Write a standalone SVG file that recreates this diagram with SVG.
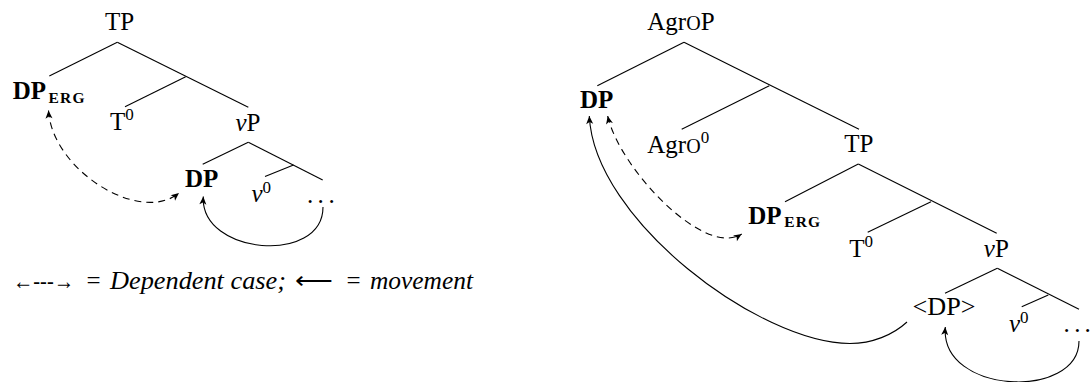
<svg xmlns="http://www.w3.org/2000/svg" width="1091" height="382" viewBox="0 0 1091 382">
<style>
text{font-family:"Liberation Serif","Times New Roman",serif;font-size:25px;fill:#000}
.b{font-weight:bold}
.i{font-style:italic}
.sub{font-size:15.5px;font-weight:bold;letter-spacing:1.2px}
.sup{font-size:17px}
.sc{font-size:20px}
.edge{stroke:#000;stroke-width:1.1;fill:none}
.arc{stroke:#000;stroke-width:1.1;fill:none}
.dash{stroke-dasharray:7 5}
</style>
<defs>
<marker id="ah" viewBox="-9 -5 10 10" refX="0" refY="0" markerWidth="10" markerHeight="10" markerUnits="userSpaceOnUse" orient="auto-start-reverse">
<path d="M0,0 L-8,-3.5 L-6,0 L-8,3.5 Z" fill="#000" stroke="none"/>
</marker>
</defs>
<g id="edges">
<line class="edge" x1="117.3" y1="42.3" x2="49.3" y2="76"/>
<line class="edge" x1="117.3" y1="42.3" x2="248.3" y2="107.3"/>
<line class="edge" x1="185.7" y1="76.7" x2="125" y2="106.7"/>
<line class="edge" x1="248.3" y1="142.3" x2="202.7" y2="164.3"/>
<line class="edge" x1="248.3" y1="142.3" x2="322.7" y2="180"/>
<line class="edge" x1="293.5" y1="165" x2="265" y2="176.5"/>
<line class="edge" x1="684" y1="42.3" x2="597.3" y2="85.7"/>
<line class="edge" x1="684" y1="42.3" x2="859" y2="129.3"/>
<line class="edge" x1="769.3" y1="85.7" x2="681.7" y2="129.3"/>
<line class="edge" x1="858.3" y1="164" x2="785" y2="201.7"/>
<line class="edge" x1="858.3" y1="164" x2="996.7" y2="233.3"/>
<line class="edge" x1="931" y1="201.7" x2="867.7" y2="232.3"/>
<line class="edge" x1="997.3" y1="268.3" x2="945" y2="293.3"/>
<line class="edge" x1="997.3" y1="268.3" x2="1079" y2="309.3"/>
<line class="edge" x1="1048.3" y1="295" x2="1021.7" y2="306.7"/>
</g>
<g id="connectors">
<path class="arc dash" d="M48.5,110.5 C52,170 140,225 179,193" marker-start="url(#ah)" marker-end="url(#ah)"/>
<path class="arc" d="M323,207 C323,265 200,255 203.3,196.5" marker-end="url(#ah)"/>
<path class="arc" d="M907,322 C893,335 872,343.5 850,343.5 C760,343.5 594,220 589.3,116" marker-end="url(#ah)"/>
<path class="arc dash" d="M607.7,116 C620,170 705,258 741.7,234" marker-start="url(#ah)" marker-end="url(#ah)"/>
<path class="arc" d="M1079,341 C1079,400 940,395 945.3,327" marker-end="url(#ah)"/>
</g>
<g id="L-TP"><text x="119.5" y="30" text-anchor="middle">TP</text></g>
<g id="L-DPerg"><text x="12.7" y="99.3"><tspan class="b">DP</tspan><tspan class="sub" dx="2.5" dy="3.4">ERG</tspan></text></g>
<g id="L-T0"><text x="110" y="130">T<tspan class="sup" dy="-10">0</tspan></text></g>
<g id="L-vP"><text x="235.5" y="131"><tspan class="i">v</tspan>P</text></g>
<g id="L-DP"><text class="b" x="185" y="186.7">DP</text></g>
<g id="L-v0"><text x="251.5" y="201.7"><tspan class="i">v</tspan><tspan class="sup" dy="-8.4">0</tspan></text></g>
<g id="L-dots"><text x="306.9 317.6 328.6" y="202.7">...</text></g>
<g id="legend"><text y="288.5"><tspan x="13" font-size="24" textLength="61" lengthAdjust="spacingAndGlyphs">←---→</tspan><tspan x="86.5">=</tspan><tspan x="110" class="i" font-size="26" textLength="176" lengthAdjust="spacingAndGlyphs">Dependent case;</tspan><tspan x="295" textLength="38" lengthAdjust="spacingAndGlyphs">⟵</tspan><tspan x="346.5">=</tspan><tspan x="370" class="i" font-size="26" textLength="103" lengthAdjust="spacingAndGlyphs">movement</tspan></text></g>
<g id="R-AgrOP"><text x="647.3" y="30">Agr<tspan class="sc">O</tspan>P</text></g>
<g id="R-DP"><text class="b" x="580" y="108.3">DP</text></g>
<g id="R-AgrO0"><text x="647.3" y="153.3">Agr<tspan class="sc">O</tspan><tspan class="sup" dy="-10">0</tspan></text></g>
<g id="R-TP"><text x="858.8" y="151.7" text-anchor="middle">TP</text></g>
<g id="R-DPerg"><text x="748.3" y="224"><tspan class="b">DP</tspan><tspan class="sub" dx="2.5" dy="3.4">ERG</tspan></text></g>
<g id="R-T0"><text x="849.3" y="256.7">T<tspan class="sup" dy="-10">0</tspan></text></g>
<g id="R-vP"><text x="983.8" y="256.7"><tspan class="i">v</tspan>P</text></g>
<g id="R-DPtrace"><text x="912.5" y="315" textLength="63" lengthAdjust="spacingAndGlyphs">&lt;DP&gt;</text></g>
<g id="R-v0"><text x="1009" y="331.7"><tspan class="i">v</tspan><tspan class="sup" dy="-8.4">0</tspan></text></g>
<g id="R-dots"><text x="1063.6 1074.2 1084.4" y="332">...</text></g>
</svg>
